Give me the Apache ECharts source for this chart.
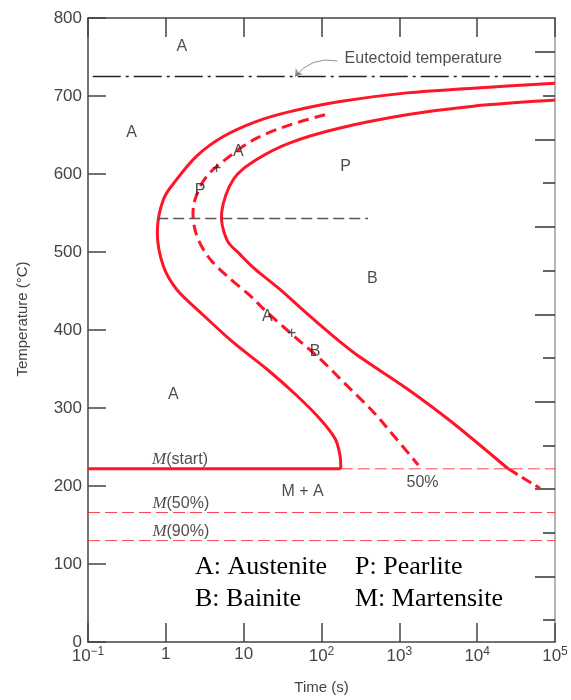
<!DOCTYPE html>
<html>
<head>
<meta charset="utf-8">
<script src="https://cdn.jsdelivr.net/npm/echarts@6/dist/echarts.min.js"></script>
<style>
html, body { margin: 0; padding: 0; background: #fff; }
#chart { width: 571px; height: 700px; }
</style>
</head>
<body>
<div id="chart"></div>
<script>
// TTT diagram: time (s, log) vs temperature (°C)
const startCurve = [[1e5, 716.5], [8930, 710], [1245, 704], [173, 693], [39.4, 680], [14.7, 667.5], [5.47, 648], [2.49, 623], [1.38, 593], [0.928, 567], [0.777, 525], [0.928, 482], [1.38, 452], [2.75, 423], [7.36, 384], [19.8, 350], [48, 316], [95.7, 286], [149, 261], [173, 239], [177, 222]]
const halfCurve = [[111, 676], [39.4, 663], [14.7, 646], [6.67, 623], [3.35, 597], [2.37, 567], [2.25, 542], [2.61, 516], [3.69, 491], [6.29, 468], [12.1, 444], [19.8, 423], [43.4, 393], [95.7, 363], [211, 329], [463, 295], [837, 265], [1750, 227]]
const finishCurve = [[1e5, 695], [8930, 687], [1245, 676], [173, 659], [39.4, 640], [14.7, 618.5], [7.36, 593], [5.22, 551], [6.06, 516], [8.98, 497], [14.0, 478], [29.3, 452], [78.5, 414], [256, 371.5], [1245, 325], [4710, 282], [25100, 222]]
const finishTail = [[25100, 222], [64200, 197]]

const tMin = 0.1
const tMax = 1e5
const eutectoidTemp = 725
const eutectoidFrom = 0.115
const noseTemp = 543
const noseRange = [0.776, 396]
const msTemp = 222
const msEnd = 177
const m50Temp = 166
const m90Temp = 130

const xTickLabels = ["{b|10}{s|−1}", "{b|1}", "{b|10}", "{b|10}{s|2}", "{b|10}{s|3}", "{b|10}{s|4}", "{b|10}{s|5}"]
const fLongTicks = [200, 400, 600, 800, 1000, 1200, 1400]
const fShortTicks = [100, 300, 500, 700, 900, 1100, 1300]

const regionLabels = [
	[1.61, 763, "A"], [0.364, 653, "A"], [8.53, 629, "A"], [4.5, 607, "+"], [2.75, 579, "P"],
	[204, 609, "P"], [450, 466, "B"], [20.1, 417, "A"], [41.4, 396, "+"], [82.6, 372, "B"],
	[1.25, 317, "A"], [57, 193, "M + A"], [1986, 204, "50%"],
	[1.52, 234, "{m|M}(start)"], [1.557, 178, "{m|M}(50%)"], [1.557, 142, "{m|M}(90%)"],
	[2032, 748.5, "Eutectoid temperature"]
]
const arrowFrom = [160, 745]
const arrowTo = [45.7, 725]

const legendRows = [
	["A: Austenite", "P: Pearlite"],
	["B: Bainite", "M: Martensite"]
]

const red = "#ff1428"
const sans = "Liberation Sans"
const serif = "Liberation Serif"

function hline(temp, from, to) {
	return [[from, temp], [to, temp]]
}

// smooth curve through the points (catmull-rom in pixel space)
function curveSeries(points, dash) {
	return {
		type: "custom",
		data: points,
		encode: { x: 0, y: 1 },
		z: 3,
		renderItem: (params, api) => {
			if (params.dataIndex !== 0) {
				return null
			}
			const p = points.map(d => api.coord(d))
			let path = "M" + p[0][0] + " " + p[0][1]
			for (let i = 0; i < p.length - 1; i++) {
				const p0 = p[i - 1] || p[i]
				const p1 = p[i]
				const p2 = p[i + 1]
				const p3 = p[i + 2] || p2
				const c1x = p1[0] + (p2[0] - p0[0]) / 6
				const c1y = p1[1] + (p2[1] - p0[1]) / 6
				const c2x = p2[0] - (p3[0] - p1[0]) / 6
				const c2y = p2[1] - (p3[1] - p1[1]) / 6
				path += " C" + c1x + " " + c1y + " " + c2x + " " + c2y + " " + p2[0] + " " + p2[1]
			}
			return {
				type: "path",
				shape: { pathData: path },
				style: { fill: "none", stroke: red, lineWidth: 3, lineDash: dash || null }
			}
		}
	}
}

const chart = echarts.init(document.getElementById("chart"))

let option = {
	animation: false,
	grid: { left: 88, right: 16, top: 18, bottom: 56 },
	xAxis: [
		{
			type: "log",
			logBase: 10,
			min: tMin,
			max: tMax,
			splitNumber: 6,
			name: "Time (s)",
			nameLocation: "middle",
			nameGap: 38,
			nameTextStyle: { fontFamily: sans, fontSize: 15, color: "#444" },
			axisLine: { lineStyle: { color: "#444", width: 1.5 } },
			axisTick: { inside: true, length: 19, lineStyle: { color: "#444", width: 1.5 } },
			axisLabel: {
				margin: 4,
				formatter: v => xTickLabels[Math.round(Math.log10(v)) + 1],
				rich: {
					b: { fontFamily: sans, fontSize: 17, color: "#444" },
					s: { fontFamily: sans, fontSize: 12, color: "#444", padding: [0, 0, 9, 0] }
				}
			},
			splitLine: { show: false },
			minorTick: { show: false }
		},
		{
			type: "log",
			logBase: 10,
			min: tMin,
			max: tMax,
			splitNumber: 6,
			position: "top",
			axisLine: { lineStyle: { color: "#444", width: 1.5 } },
			axisTick: { inside: true, length: 19, lineStyle: { color: "#444", width: 1.5 } },
			axisLabel: { show: false },
			splitLine: { show: false }
		}
	],
	yAxis: [
		{
			type: "value",
			min: 0,
			max: 800,
			interval: 100,
			name: "Temperature (°C)",
			nameLocation: "middle",
			nameGap: 58,
			nameTextStyle: { fontFamily: sans, fontSize: 15, color: "#444", padding: [0, 0, 0, 22] },
			axisLine: { show: true, lineStyle: { color: "#444", width: 1.5 } },
			axisTick: { inside: true, length: 18, lineStyle: { color: "#444", width: 1.5 } },
			axisLabel: { fontFamily: sans, fontSize: 17, color: "#444", margin: 6 },
			splitLine: { show: false }
		},
		{
			type: "value",
			position: "right",
			min: 50,
			max: 1478,
			axisLine: { show: true, lineStyle: { color: "#999", width: 1.5 } },
			axisTick: { inside: true, length: 20, customValues: fLongTicks, lineStyle: { color: "#333", width: 1.5 } },
			axisLabel: { show: false },
			splitLine: { show: false }
		},
		{
			type: "value",
			position: "right",
			min: 50,
			max: 1478,
			axisLine: { show: false },
			axisTick: { show: true, inside: true, length: 12, customValues: fShortTicks, lineStyle: { color: "#333", width: 1.5 } },
			axisLabel: { show: false },
			splitLine: { show: false }
		}
	],
	series: [
		{
			type: "line",
			data: hline(eutectoidTemp, eutectoidFrom, tMax),
			symbol: "none",
			lineStyle: { color: "#222", width: 1.3, type: [28, 5, 3, 5] }
		},
		{
			type: "line",
			data: hline(noseTemp, noseRange[0], noseRange[1]),
			symbol: "none",
			lineStyle: { color: "#555", width: 1.5, type: [11, 5] }
		},
		{
			type: "line",
			data: hline(msTemp, msEnd, tMax),
			symbol: "none",
			lineStyle: { color: red, width: 1, type: [12, 5], opacity: 0.8 }
		},
		{
			type: "line",
			data: hline(m50Temp, tMin, tMax),
			symbol: "none",
			lineStyle: { color: red, width: 1, type: [12, 5], opacity: 0.8 }
		},
		{
			type: "line",
			data: hline(m90Temp, tMin, tMax),
			symbol: "none",
			lineStyle: { color: red, width: 1, type: [12, 5], opacity: 0.8 }
		},
		{
			type: "line",
			data: hline(msTemp, tMin, msEnd),
			symbol: "none",
			lineStyle: { color: red, width: 3 }
		},
		curveSeries(startCurve),
		curveSeries(halfCurve, [11, 6]),
		curveSeries(finishCurve),
		{
			type: "line",
			data: finishTail,
			symbol: "none",
			lineStyle: { color: red, width: 3, type: [11, 5] }
		},
		{
			type: "lines",
			coordinateSystem: "cartesian2d",
			symbol: ["none", "arrow"],
			symbolSize: 7,
			data: [{ coords: [arrowFrom, arrowTo] }],
			lineStyle: { color: "#222", width: 1, curveness: -0.3 }
		},
		{
			type: "scatter",
			data: regionLabels,
			symbolSize: 0,
			z: 5,
			label: {
				show: true,
				position: "inside",
				formatter: p => p.data[2],
				fontFamily: sans,
				fontSize: 16,
				color: "#222",
				rich: {
					m: { fontFamily: serif, fontStyle: "italic", fontSize: 17, color: "#222" }
				}
			}
		}
	],
	graphic: legendRows.flatMap((row, i) =>
		row.map((txt, j) => ({
			type: "text",
			left: j === 0 ? 195 : 355,
			top: 554 + i * 32,
			style: { text: txt, font: '26px "Liberation Serif"', fill: "#000" }
		}))
	)
}

chart.setOption(option)
</script>
</body>
</html>
